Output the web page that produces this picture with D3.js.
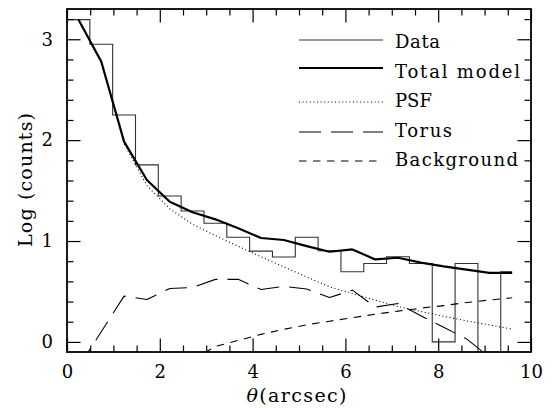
<!DOCTYPE html>
<html>
<head>
<meta charset="utf-8">
<script src="https://cdn.jsdelivr.net/npm/d3@7"></script>
<style>
  html, body { margin: 0; padding: 0; background: #fff; }
  svg { display: block; }
  text { font-family: "DejaVu Serif", "Liberation Serif", serif; fill: #000; }
</style>
</head>
<body>
<svg id="chart" width="559" height="408"></svg>
<script>
// ---- data ----
const binCenters = [0.246, 0.738, 1.230, 1.722, 2.214, 2.706, 3.198, 3.690, 4.182, 4.674,
                    5.166, 5.658, 6.150, 6.642, 7.134, 7.626, 8.118, 8.610, 9.102, 9.594];
// log counts per bin (null = zero counts, log undefined)
const dataLog   = [3.195, 2.950, 2.250, 1.755, 1.447, 1.298, 1.176, 1.037, 0.900, 0.841,
                   1.037, 0.904, 0.695, 0.778, 0.844, 0.778, 0.000, 0.778, null, 0.695];
const totalModel = [3.195, 2.780, 1.985, 1.605, 1.390, 1.285, 1.215, 1.126, 1.030, 1.010,
                    0.950, 0.894, 0.917, 0.818, 0.834, 0.786, 0.748, 0.716, 0.685, 0.685];
const psfModel   = [3.190, 2.770, 1.965, 1.550, 1.320, 1.166, 1.053, 0.948, 0.844, 0.743,
                    0.644, 0.546, 0.480, 0.414, 0.350, 0.301, 0.254, 0.209, 0.169, 0.126];
const torusModel = [-0.25, 0.100, 0.454, 0.421, 0.530, 0.540, 0.620, 0.620, 0.520, 0.550,
                    0.525, 0.440, 0.513, 0.345, 0.380, 0.260, 0.146, 0.030, -0.150, null];
const bgModel    = [null, null, null, null, null, -0.180, -0.045, 0.015, 0.075, 0.125,
                    0.170, 0.205, 0.240, 0.275, 0.305, 0.335, 0.360, 0.390, 0.415, 0.437];

const xMajorTicks = [0, 2, 4, 6, 8, 10];
const xMinorTicks = [0.5, 1, 1.5, 2.5, 3, 3.5, 4.5, 5, 5.5, 6.5, 7, 7.5, 8.5, 9, 9.5];
const yMajorTicks = [0, 1, 2, 3];
const yMinorTicks = [0.2, 0.4, 0.6, 0.8, 1.2, 1.4, 1.6, 1.8, 2.2, 2.4, 2.6, 2.8, 3.2];

const legendNames = ["Data", "Total model", "PSF", "Torus", "Background"];

// ---- layout ----
const X0 = 67, X1 = 531, Y0 = 9, Y1 = 352;
const x = d3.scaleLinear().domain([0, 10]).range([X0, X1]);
const y = d3.scaleLinear().domain([-0.1, 3.3]).range([Y1, Y0]);

const svg = d3.select("#chart");

svg.append("defs").append("clipPath").attr("id", "plotclip")
  .append("rect").attr("x", X0).attr("y", Y0).attr("width", X1 - X0).attr("height", Y1 - Y0);

const styles = {
  "Data":        { stroke: "#333", width: 1.1, dash: null },
  "Total model": { stroke: "#000", width: 2.2, dash: null },
  "PSF":         { stroke: "#000", width: 1.1, dash: "1,2.6" },
  "Torus":       { stroke: "#000", width: 1.1, dash: "22,10" },
  "Background":  { stroke: "#000", width: 1.1, dash: "7.5,6.5" }
};

const plot = svg.append("g").attr("clip-path", "url(#plotclip)");

// histogram (step) path, edges built from bin centres
const w = binCenters[1] - binCenters[0];
const n = binCenters.length;
const yVal = v => (v === null ? Y1 + 60 : y(v));
let histPts = [];
binCenters.forEach((c, i) => {
  const lo = c - w / 2;
  const hi = (i === n - 1) ? c : c + w / 2;
  histPts.push([x(lo), yVal(dataLog[i])]);
  histPts.push([x(hi), yVal(dataLog[i])]);
});
plot.append("path")
  .attr("d", d3.line()(histPts))
  .attr("fill", "none")
  .attr("stroke", styles["Data"].stroke)
  .attr("stroke-width", styles["Data"].width);

function drawModel(vals, st) {
  const line = d3.line()
    .defined(d => d[1] !== null)
    .x(d => x(d[0])).y(d => y(d[1]));
  plot.append("path")
    .attr("d", line(binCenters.map((c, i) => [c, vals[i]])))
    .attr("fill", "none")
    .attr("stroke", st.stroke)
    .attr("stroke-width", st.width)
    .attr("stroke-dasharray", st.dash)
    .attr("stroke-linejoin", "round");
}
drawModel(bgModel, styles["Background"]);
drawModel(torusModel, styles["Torus"]);
drawModel(psfModel, styles["PSF"]);
drawModel(totalModel, styles["Total model"]);

// ---- axes (ticks inward on all four sides) ----
function styleAxis(g) {
  g.select(".domain").remove();
  g.selectAll(".tick line").attr("stroke", "#000").attr("stroke-width", 1.2);
}
const MAJ = 13.5, MIN = 6.5;

const gxb = svg.append("g").attr("transform", `translate(0,${Y1})`)
  .call(d3.axisBottom(x).tickValues(xMajorTicks).tickSizeInner(-MAJ).tickSizeOuter(0).tickPadding(13)
        .tickFormat(d3.format("d")));
styleAxis(gxb);
gxb.selectAll(".tick text").attr("font-size", 18).attr("font-family", "DejaVu Serif").attr("fill", "#000");
svg.append("g").attr("transform", `translate(0,${Y1})`)
  .call(d3.axisBottom(x).tickValues(xMinorTicks).tickSizeInner(-MIN).tickSizeOuter(0).tickFormat(""))
  .call(styleAxis);
svg.append("g").attr("transform", `translate(0,${Y0})`)
  .call(d3.axisTop(x).tickValues(xMajorTicks).tickSizeInner(-MAJ).tickSizeOuter(0).tickFormat(""))
  .call(styleAxis);
svg.append("g").attr("transform", `translate(0,${Y0})`)
  .call(d3.axisTop(x).tickValues(xMinorTicks).tickSizeInner(-MIN).tickSizeOuter(0).tickFormat(""))
  .call(styleAxis);

const gyl = svg.append("g").attr("transform", `translate(${X0},0)`)
  .call(d3.axisLeft(y).tickValues(yMajorTicks).tickSizeInner(-MAJ).tickSizeOuter(0).tickPadding(14)
        .tickFormat(d3.format("d")));
styleAxis(gyl);
gyl.selectAll(".tick text").attr("font-size", 18).attr("font-family", "DejaVu Serif").attr("fill", "#000");
svg.append("g").attr("transform", `translate(${X0},0)`)
  .call(d3.axisLeft(y).tickValues(yMinorTicks).tickSizeInner(-MIN).tickSizeOuter(0).tickFormat(""))
  .call(styleAxis);
svg.append("g").attr("transform", `translate(${X1},0)`)
  .call(d3.axisRight(y).tickValues(yMajorTicks).tickSizeInner(-MAJ).tickSizeOuter(0).tickFormat(""))
  .call(styleAxis);
svg.append("g").attr("transform", `translate(${X1},0)`)
  .call(d3.axisRight(y).tickValues(yMinorTicks).tickSizeInner(-MIN).tickSizeOuter(0).tickFormat(""))
  .call(styleAxis);

// frame
svg.append("rect")
  .attr("x", X0).attr("y", Y0).attr("width", X1 - X0).attr("height", Y1 - Y0)
  .attr("fill", "none").attr("stroke", "#000").attr("stroke-width", 1.8);

// ---- axis titles ----
const xt = svg.append("text")
  .attr("x", 246.5).attr("y", 402)
  .attr("font-size", 19)
  .attr("textLength", 100).attr("lengthAdjust", "spacing");
xt.append("tspan").attr("font-style", "italic").text("θ");
xt.append("tspan").text("(arcsec)");

svg.append("text")
  .attr("transform", "translate(31.5,180) rotate(-90)")
  .attr("text-anchor", "middle")
  .attr("font-size", 19)
  .attr("textLength", 134).attr("lengthAdjust", "spacing")
  .text("Log (counts)");

// ---- legend ----
const legendLineY = [40, 68, 102, 132, 161];
const legendTextY = [47.5, 77.5, 106.5, 136.5, 165.5];
const legendTextW = [45, 125, null, 57, 123];
const leg = svg.append("g");
legendNames.forEach((name, i) => {
  const st = styles[name];
  leg.append("line")
    .attr("x1", 299).attr("x2", 383)
    .attr("y1", legendLineY[i]).attr("y2", legendLineY[i])
    .attr("stroke", st.stroke).attr("stroke-width", st.width)
    .attr("stroke-dasharray", st.dash);
  const t = leg.append("text")
    .attr("x", 395).attr("y", legendTextY[i])
    .attr("font-size", 18)
    .text(name);
  if (legendTextW[i] !== null) {
    t.attr("textLength", legendTextW[i]).attr("lengthAdjust", "spacing");
  }
});
</script>
</body>
</html>
